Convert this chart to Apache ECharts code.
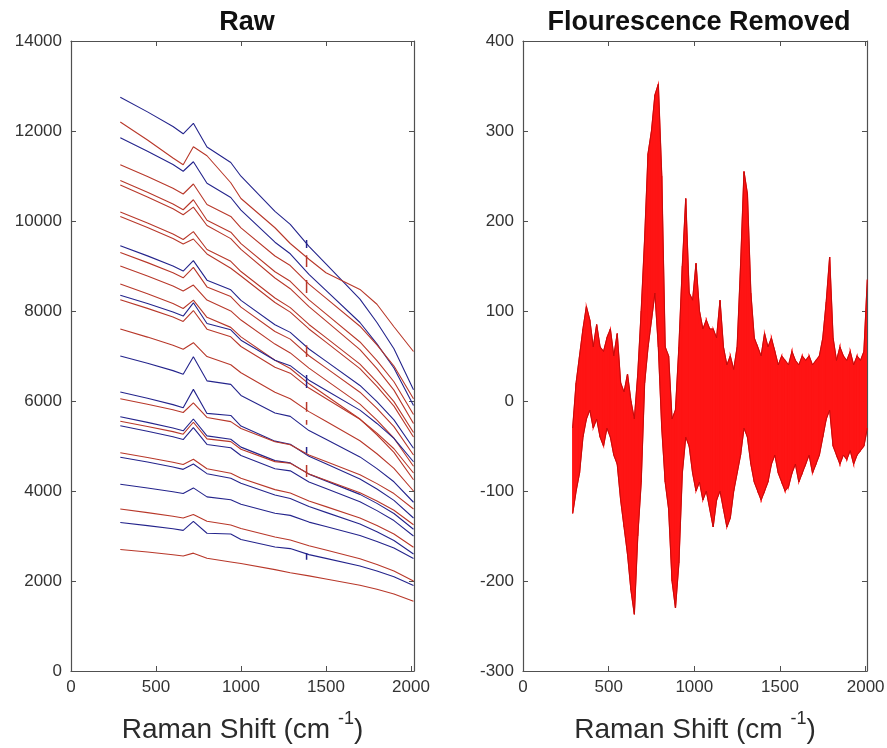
<!DOCTYPE html>
<html><head><meta charset="utf-8">
<script src="https://cdn.jsdelivr.net/npm/echarts@6/dist/echarts.min.js"></script>
<style>html,body{margin:0;padding:0;background:#fff}#c{width:887px;height:748px}</style>
</head><body><div id="c"></div>
<script>
// ---------- DATA ----------
const panelTitles = ['Raw', 'Flourescence Removed'];
const xTicks = [0, 500, 1000, 1500, 2000];
const rawX = [290,450,600,660,720,800,940,1000,1200,1290,1400,1500,1700,1800,1900,2015];
const raw01 = [12750,12425,12100,11938,12170,11645,11300,10995,10215,9925,9435,9045,8265,7745,7160,6250];
const raw02 = [12200,11800,11400,11250,11650,11450,10850,10500,9850,9500,9150,8850,8480,8150,7650,7100];
const raw03 = [11850,11552,11255,11106,11317,10838,10522,10243,9529,9272,8815,8458,7744,7268,6733,5900];
const raw04 = [11250,10990,10730,10600,10822,10366,10102,9846,9222,9010,8598,8286,7662,7246,6778,6050];
const raw05 = [10900,10640,10380,10250,10472,10016,9752,9496,8872,8660,8248,7936,7312,6896,6428,5700];
const raw06 = [10800,10535,10270,10138,10308,9899,9608,9369,8733,8495,8097,7779,7143,6719,6242,5500];
const raw07 = [10200,9955,9710,9588,9764,9367,9104,8877,8289,8075,7701,7407,6819,6427,5986,5300];
const raw08 = [10100,9855,9610,9488,9600,9267,8950,8777,8189,7975,7601,7307,6719,6327,5886,5200];
const raw09 = [9450,9225,9000,8888,9120,8685,8470,8235,7695,7525,7155,6885,6345,5985,5580,4950];
const raw10 = [9300,9075,8850,8738,8970,8535,8320,8085,7545,7375,7005,6735,6195,5835,5430,4800];
const raw11 = [9000,8778,8555,8444,8577,8244,8002,7799,7265,7068,6731,6464,5930,5574,5173,4550];
const raw12 = [8600,8383,8165,8056,8241,7860,7636,7426,6904,6723,6382,6121,5599,5250,4859,4250];
const raw13 = [8350,8165,7980,7888,8182,7721,7582,7351,6907,6785,6463,6241,5797,5501,5168,4650];
const raw14 = [8250,8058,7865,7769,8011,7596,7426,7211,6749,6618,6287,6056,5594,5286,4939,4400];
const raw15 = [7600,7420,7240,7150,7296,6988,6806,6628,6196,6050,5764,5548,5116,4828,4504,4000];
const raw16 = [7000,6838,6675,6594,6985,6448,6370,6123,5733,5658,5343,5148,4758,4498,4205,3750];
const raw17 = [6200,6060,5920,5850,6258,5724,5678,5444,5108,5040,4772,4604,4268,4044,3792,3400];
const raw18 = [6050,5928,5805,5744,5957,5634,5542,5389,5095,5028,4801,4654,4360,4164,3943,3600];
const raw19 = [5650,5525,5400,5338,5600,5225,5150,4975,4675,4625,4375,4225,3925,3725,3500,3150];
const raw20 = [5550,5435,5320,5263,5528,5159,5098,4929,4653,4615,4377,4239,3963,3779,3572,3250];
const raw21 = [5450,5328,5205,5144,5407,5034,4962,4789,4495,4448,4201,4054,3760,3564,3343,3000];
const raw22 = [4850,4745,4640,4588,4706,4493,4396,4283,4031,3955,3779,3653,3401,3233,3044,2750];
const raw23 = [4750,4643,4535,4481,4599,4385,4284,4170,3912,3833,3654,3525,3267,3095,2901,2600];
const raw24 = [4150,4068,3985,3944,4069,3870,3804,3705,3507,3458,3309,3210,3012,2880,2731,2500];
const raw25 = [3600,3520,3440,3400,3476,3328,3246,3168,2976,2910,2784,2688,2496,2368,2224,2000];
const raw26 = [3300,3230,3160,3125,3324,3062,3044,2922,2754,2720,2586,2502,2334,2222,2096,1900];
const raw27 = [2700,2643,2585,2556,2619,2505,2424,2390,2252,2183,2114,2045,1907,1815,1711,1550];
const rawLines = [raw01,raw02,raw03,raw04,raw05,raw06,raw07,raw08,raw09,raw10,raw11,raw12,raw13,raw14,
                  raw15,raw16,raw17,raw18,raw19,raw20,raw21,raw22,raw23,raw24,raw25,raw26,raw27];
const rawGroup = ['A','B','A','B','B','B','B','B','A','B','B','B','A','B','B','A','A','B','A','B','A','B','A','A','B','A','B'];
// narrow spikes near 1386 cm-1
const spikeX = 1386;
const spikeLow  = [9400,8980,8400,6980,6290,5760,5470,4840,4310,2470];
const spikeHigh = [9580,9240,8690,7240,6580,5980,5580,4980,4580,2620];
const spikeGroup = ['A','B','B','B','A','B','B','A','B','A'];

// Fluorescence-removed band: envelope (lower / upper) every 20 cm-1 from 290
const bandStart = 290, bandStep = 20;
const bandUpper = [-30,20,50,80,105,90,60,85,60,55,
  70,80,50,75,20,10,30,0,-20,30,
  100,180,275,300,340,352,250,60,50,-20,
  -10,60,150,225,120,112,153,100,80,90,
  80,80,70,112,60,40,50,35,60,150,
  255,230,120,70,60,50,75,60,70,55,
  40,50,45,40,55,45,40,50,45,50,
  40,45,50,70,110,160,70,45,60,50,
  45,55,40,50,45,55,135];
const bandLower = [-125,-100,-80,-40,-20,-10,-30,-20,-40,-50,
  -30,-40,-60,-70,-110,-140,-170,-210,-237,-150,
  -90,20,60,90,120,60,-30,-90,-120,-200,
  -230,-180,-80,-40,-50,-80,-100,-90,-110,-100,
  -120,-140,-110,-100,-120,-140,-130,-100,-80,-60,
  -30,-40,-70,-90,-100,-110,-100,-90,-70,-60,
  -80,-90,-100,-95,-80,-70,-90,-80,-70,-60,
  -80,-70,-60,-40,-20,-10,-50,-60,-70,-60,
  -65,-55,-70,-60,-55,-50,-30];

// ---------- STYLE / LAYOUT ----------
const FONT = '"Liberation Sans", Arial, Helvetica, sans-serif';
const AX = '#505050';
const groupColor = {A: '#24248c', B: '#b8382a'};
const bandFill = '#ff1414', bandEdge = '#c40c0c';

const chart = echarts.init(document.getElementById('c'), null, {renderer: 'canvas'});

function xAxisDef(grid, max, top) {
  const a = {
    type: 'value', gridIndex: grid, min: 0, max: max, interval: 500,
    position: top ? 'top' : 'bottom',
    axisLine: {show: true, onZero: false, lineStyle: {color: AX, width: 1.2}},
    axisTick: {show: true, inside: true, length: 5, lineStyle: {color: AX}},
    splitLine: {show: false},
    axisLabel: {show: !top, margin: 8, fontSize: 17, fontFamily: FONT, color: '#333',
      formatter: v => (xTicks.indexOf(v) >= 0 ? String(v) : '')},
  };
  if (!top) {
    a.name = '{a|Raman Shift (cm }{b|-1}{a|)}';
    a.nameLocation = 'middle';
    a.nameGap = 39;
    a.nameTextStyle = {rich: {
      a: {fontSize: 28, fontFamily: FONT, color: '#2b2b2b', lineHeight: 34, verticalAlign: 'bottom'},
      b: {fontSize: 18, fontFamily: FONT, color: '#2b2b2b', lineHeight: 19, verticalAlign: 'top'}
    }};
  }
  return a;
}
function yAxisDef(grid, min, max, interval, right) {
  return {
    type: 'value', gridIndex: grid, min: min, max: max, interval: interval,
    position: right ? 'right' : 'left',
    axisLine: {show: true, onZero: false, lineStyle: {color: AX, width: 1.2}},
    axisTick: {show: true, inside: true, length: 5, lineStyle: {color: AX}},
    splitLine: {show: false},
    axisLabel: {show: !right, margin: 9, fontSize: 17, fontFamily: FONT, color: '#333',
      formatter: v => String(v)}
  };
}

const series = [];
rawLines.forEach((arr, k) => {
  series.push({
    type: 'line', xAxisIndex: 0, yAxisIndex: 0, showSymbol: false, silent: true,
    data: rawX.map((x, i) => [x, arr[i]]),
    lineStyle: {width: 1.1, color: groupColor[rawGroup[k]]}
  });
});
spikeLow.forEach((lo, k) => {
  series.push({
    type: 'line', xAxisIndex: 0, yAxisIndex: 0, showSymbol: false, silent: true,
    data: [[spikeX, lo], [spikeX, spikeHigh[k]]],
    lineStyle: {width: 1.5, color: groupColor[spikeGroup[k]]}
  });
});
const bandX = bandLower.map((_, i) => bandStart + bandStep * i);
series.push({
  type: 'custom', xAxisIndex: 2, yAxisIndex: 2, silent: true, clip: true,
  data: bandX.map((x, i) => [x, bandLower[i], bandUpper[i]]),
  encode: {x: 0, y: [1, 2]},
  renderItem: function (params, api) {
    const i = params.dataIndex;
    if (i >= bandX.length - 1) return null;
    const pts = [
      api.coord([bandX[i], bandLower[i]]),
      api.coord([bandX[i + 1], bandLower[i + 1]]),
      api.coord([bandX[i + 1], bandUpper[i + 1]]),
      api.coord([bandX[i], bandUpper[i]])
    ];
    return {type: 'polygon', shape: {points: pts},
            style: {fill: bandFill, stroke: bandFill, lineWidth: 1.2}};
  }
});
[bandLower, bandUpper].forEach(arr => {
  series.push({
    type: 'line', xAxisIndex: 2, yAxisIndex: 2, showSymbol: false, silent: true,
    data: bandX.map((x, i) => [x, arr[i]]),
    lineStyle: {width: 1, color: bandEdge}, z: 3
  });
});

chart.setOption({
  animation: false,
  backgroundColor: '#fff',
  title: [
    {text: panelTitles[0], left: 242, top: 4, textAlign: 'center',
     textStyle: {fontSize: 27, fontWeight: 'bold', fontFamily: FONT, color: '#111'}},
    {text: panelTitles[1], left: 694, top: 4, textAlign: 'center',
     textStyle: {fontSize: 27, fontWeight: 'bold', fontFamily: FONT, color: '#111'}}
  ],
  grid: [
    {left: 71, top: 41, width: 343, height: 630, outerBoundsMode: 'none'},
    {left: 523, top: 41, width: 344, height: 630, outerBoundsMode: 'none'}
  ],
  xAxis: [xAxisDef(0, 2018, false), xAxisDef(0, 2018, true), xAxisDef(1, 2008, false), xAxisDef(1, 2008, true)],
  yAxis: [yAxisDef(0, 0, 14000, 2000, false), yAxisDef(0, 0, 14000, 2000, true),
          yAxisDef(1, -300, 400, 100, false), yAxisDef(1, -300, 400, 100, true)],
  series: series
});
</script></body></html>
